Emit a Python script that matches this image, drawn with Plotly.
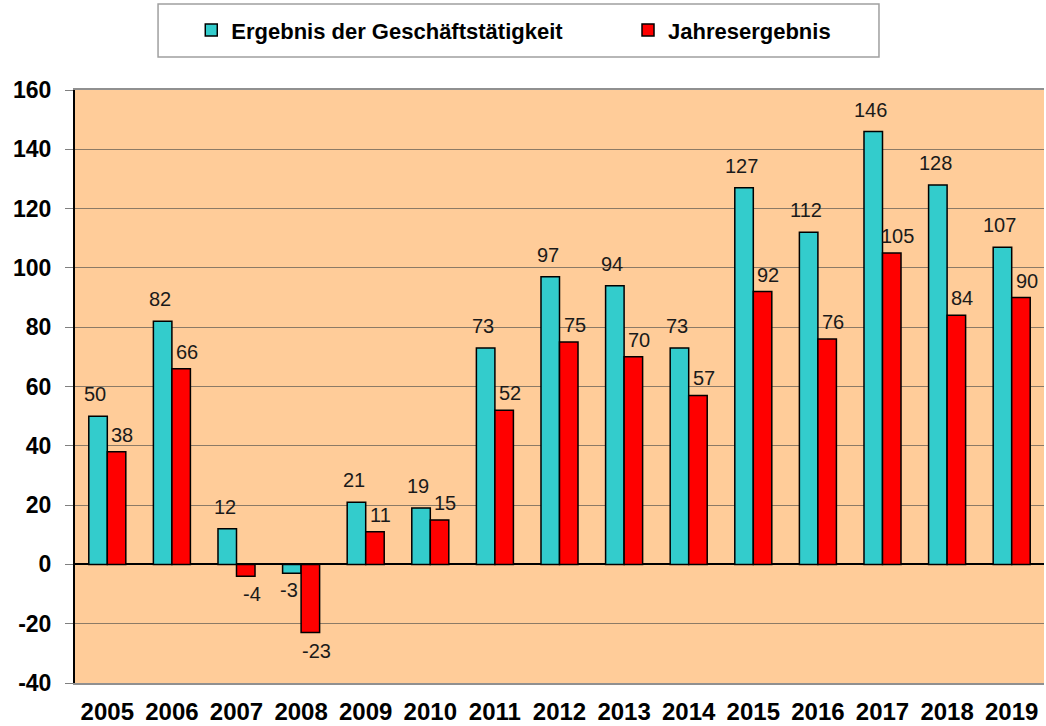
import plotly.graph_objects as go

years = ["2005", "2006", "2007", "2008", "2009", "2010", "2011", "2012",
         "2013", "2014", "2015", "2016", "2017", "2018", "2019"]
geschaeft = [50, 82, 12, -3, 21, 19, 73, 97, 94, 73, 127, 112, 146, 128, 107]
jahres = [38, 66, -4, -23, 11, 15, 52, 75, 70, 57, 92, 76, 105, 84, 90]
y_ticks = [-40, -20, 0, 20, 40, 60, 80, 100, 120, 140, 160]

FONT = "Liberation Sans, Arial, sans-serif"

fig = go.Figure()
fig.add_trace(go.Bar(
    x=years, y=geschaeft, name="Ergebnis der Geschäftstätigkeit",
    marker=dict(color="#33CCCC", line=dict(color="#000000", width=1.5)),
    legend="legend",
))
fig.add_trace(go.Bar(
    x=years, y=jahres, name="Jahresergebnis",
    marker=dict(color="#FF0000", line=dict(color="#000000", width=1.5)),
    legend="legend2",
))

# data labels (x given as category index)
for i, v in enumerate(geschaeft):
    fig.add_annotation(x=i, y=v, text=str(v), showarrow=False,
                       xshift=-12, yshift=(22 if v >= 0 else -17),
                       font=dict(family=FONT, size=20, color="#1a1a1a"))
for i, v in enumerate(jahres):
    fig.add_annotation(x=i, y=v, text=str(v), showarrow=False,
                       xshift=15, yshift=(17 if v >= 0 else -18),
                       font=dict(family=FONT, size=20, color="#1a1a1a"))

# legend box
fig.add_shape(type="rect", xref="paper", yref="paper",
              x0=0.0857, x1=0.8297, y0=1.0556, y1=1.145,
              line=dict(color="#A0A0A0", width=1.5), fillcolor="white")

legend_style = dict(orientation="h", xanchor="left", y=1.101, yanchor="middle",
                    bgcolor="rgba(0,0,0,0)", borderwidth=0,
                    font=dict(family=FONT, size=22, color="#000000", weight="bold"),
                    itemwidth=30)

fig.update_layout(
    width=1046, height=726,
    margin=dict(l=75, r=2, t=90, b=43),
    paper_bgcolor="white",
    plot_bgcolor="#FFCC99",
    barmode="group",
    bargap=0.427,
    bargroupgap=0.0,
    showlegend=True,
    legend=dict(x=0.12, **legend_style),
    legend2=dict(x=0.5707, **legend_style),
    font=dict(family=FONT, color="#000000"),
)
fig.update_xaxes(
    type="category", range=[-0.5, len(years) - 0.5], autorange=False,
    automargin=False,
    showline=True, linecolor="#909090", linewidth=1.5, mirror=True,
    tickfont=dict(family=FONT, size=24, color="#000000", weight="bold"),
    ticks="", showgrid=False, ticklabelstandoff=6,
)
fig.update_yaxes(
    range=[-40, 160], tickvals=y_ticks, ticktext=[str(t) for t in y_ticks],
    automargin=False,
    showline=True, linecolor="#000000", linewidth=2, mirror=False,
    gridcolor="#8C7A66", gridwidth=1.2,
    zeroline=True, zerolinecolor="#000000", zerolinewidth=2,
    ticks="outside", ticklen=8, tickcolor="#808080",
    ticklabelstandoff=9,
    tickfont=dict(family=FONT, size=23, color="#000000", weight="bold"),
)

fig.write_html(
    "out.html",
    config={"displayModeBar": False},
    post_script="document.body.style.margin='0px';"
                "document.body.style.overflow='hidden';",
)
